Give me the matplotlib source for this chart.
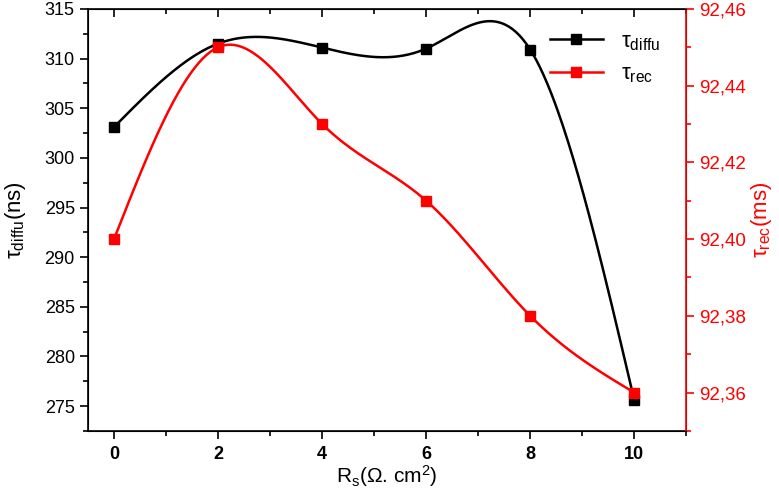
import numpy as np
import matplotlib.pyplot as plt
from matplotlib.ticker import MultipleLocator, FuncFormatter

# data
rs = [0, 2, 4, 6, 8, 10]
tau_diffu = [303.1, 311.5, 311.1, 311.0, 310.9, 275.6]
tau_rec = [92.40, 92.45, 92.43, 92.41, 92.38, 92.36]


def natural_spline(x, y, n=300):
    # natural cubic spline through the points (Origin-style "spline" line)
    x = np.asarray(x, float)
    y = np.asarray(y, float)
    k = len(x)
    h = np.diff(x)
    A = np.zeros((k, k))
    b = np.zeros(k)
    A[0, 0] = A[-1, -1] = 1
    for i in range(1, k - 1):
        A[i, i - 1] = h[i - 1]
        A[i, i] = 2 * (h[i - 1] + h[i])
        A[i, i + 1] = h[i]
        b[i] = 3 * ((y[i + 1] - y[i]) / h[i] - (y[i] - y[i - 1]) / h[i - 1])
    c = np.linalg.solve(A, b)
    xs = np.linspace(x[0], x[-1], n)
    idx = np.clip(np.searchsorted(x, xs) - 1, 0, k - 2)
    dx = xs - x[idx]
    hi = h[idx]
    bb = (y[idx + 1] - y[idx]) / hi - hi * (2 * c[idx] + c[idx + 1]) / 3
    dd = (c[idx + 1] - c[idx]) / (3 * hi)
    ys = y[idx] + bb * dx + c[idx] * dx ** 2 + dd * dx ** 3
    return xs, ys


plt.rcParams['font.family'] = ['Liberation Sans', 'DejaVu Sans']
plt.rcParams['mathtext.fontset'] = 'custom'
plt.rcParams['mathtext.rm'] = 'Liberation Sans'
plt.rcParams['mathtext.it'] = 'Liberation Sans'

fig = plt.figure(figsize=(7.79, 4.92), dpi=100)
ax = fig.add_axes([0.113, 0.124, 0.768, 0.858])
ax2 = ax.twinx()

xs, ys = natural_spline(rs, tau_diffu)
ax.plot(xs, ys, color='black', lw=1.8)
ax.plot(rs, tau_diffu, 's', color='black', ms=7)
ax.plot([], [], '-s', color='black', lw=1.8, ms=7, label='τ$_\\mathregular{diffu}$')

xs, ys = natural_spline(rs, tau_rec)
ax2.plot(xs, ys, color='red', lw=1.8)
ax2.plot(rs, tau_rec, 's', color='red', ms=7)
ax.plot([], [], '-s', color='red', lw=1.8, ms=7, label='τ$_\\mathregular{rec}$')

ax.set_xlim(-0.5, 11)
ax.set_ylim(272.5, 315)
ax2.set_ylim(92.35, 92.46)

ax.xaxis.set_major_locator(MultipleLocator(2))
ax.xaxis.set_minor_locator(MultipleLocator(1))
ax.yaxis.set_major_locator(MultipleLocator(5))
ax.yaxis.set_minor_locator(MultipleLocator(2.5))
ax2.yaxis.set_major_locator(MultipleLocator(0.02))
ax2.yaxis.set_minor_locator(MultipleLocator(0.01))
ax2.yaxis.set_major_formatter(FuncFormatter(lambda v, p: f'{v:.2f}'.replace('.', ',')))

ax.tick_params(axis='x', which='both', direction='out', top=True, labelsize=13, pad=5)
ax.tick_params(axis='x', which='major', length=6, width=1.2)
ax.tick_params(axis='x', which='minor', length=3.5, width=1.2)
ax.tick_params(axis='y', which='major', length=6, width=1.2, labelsize=13)
ax.tick_params(axis='y', which='minor', length=3.5, width=1.2)
for lab in ax.get_xticklabels():
    lab.set_fontweight('bold')
# top ticks point inward
for t in ax.xaxis.get_major_ticks() + ax.xaxis.get_minor_ticks():
    t.tick2line.set_marker(3)

ax2.tick_params(axis='y', which='major', length=6, width=1.2, colors='red', labelsize=13.5)
ax2.tick_params(axis='y', which='minor', length=3.5, width=1.2, colors='red')
ax2.spines['right'].set_color('red')
for s in ['left', 'bottom', 'top']:
    ax.spines[s].set_linewidth(1.2)
ax2.spines['right'].set_linewidth(1.2)

ax.set_xlabel('R$_\\mathregular{s}$(Ω. cm$^\\mathregular{2}$)', fontsize=15, labelpad=0)
ax.set_ylabel('τ$_\\mathregular{diffu}$(ns)', fontsize=16, labelpad=12)
ax2.set_ylabel('τ$_\\mathregular{rec}$(ms)', fontsize=16, color='red', labelpad=2)

ax.legend(loc='upper right', bbox_to_anchor=(0.99, 0.995), frameon=False, fontsize=16,
          handlelength=2.4, labelspacing=0.5)

fig.savefig('out.png', dpi=100)
